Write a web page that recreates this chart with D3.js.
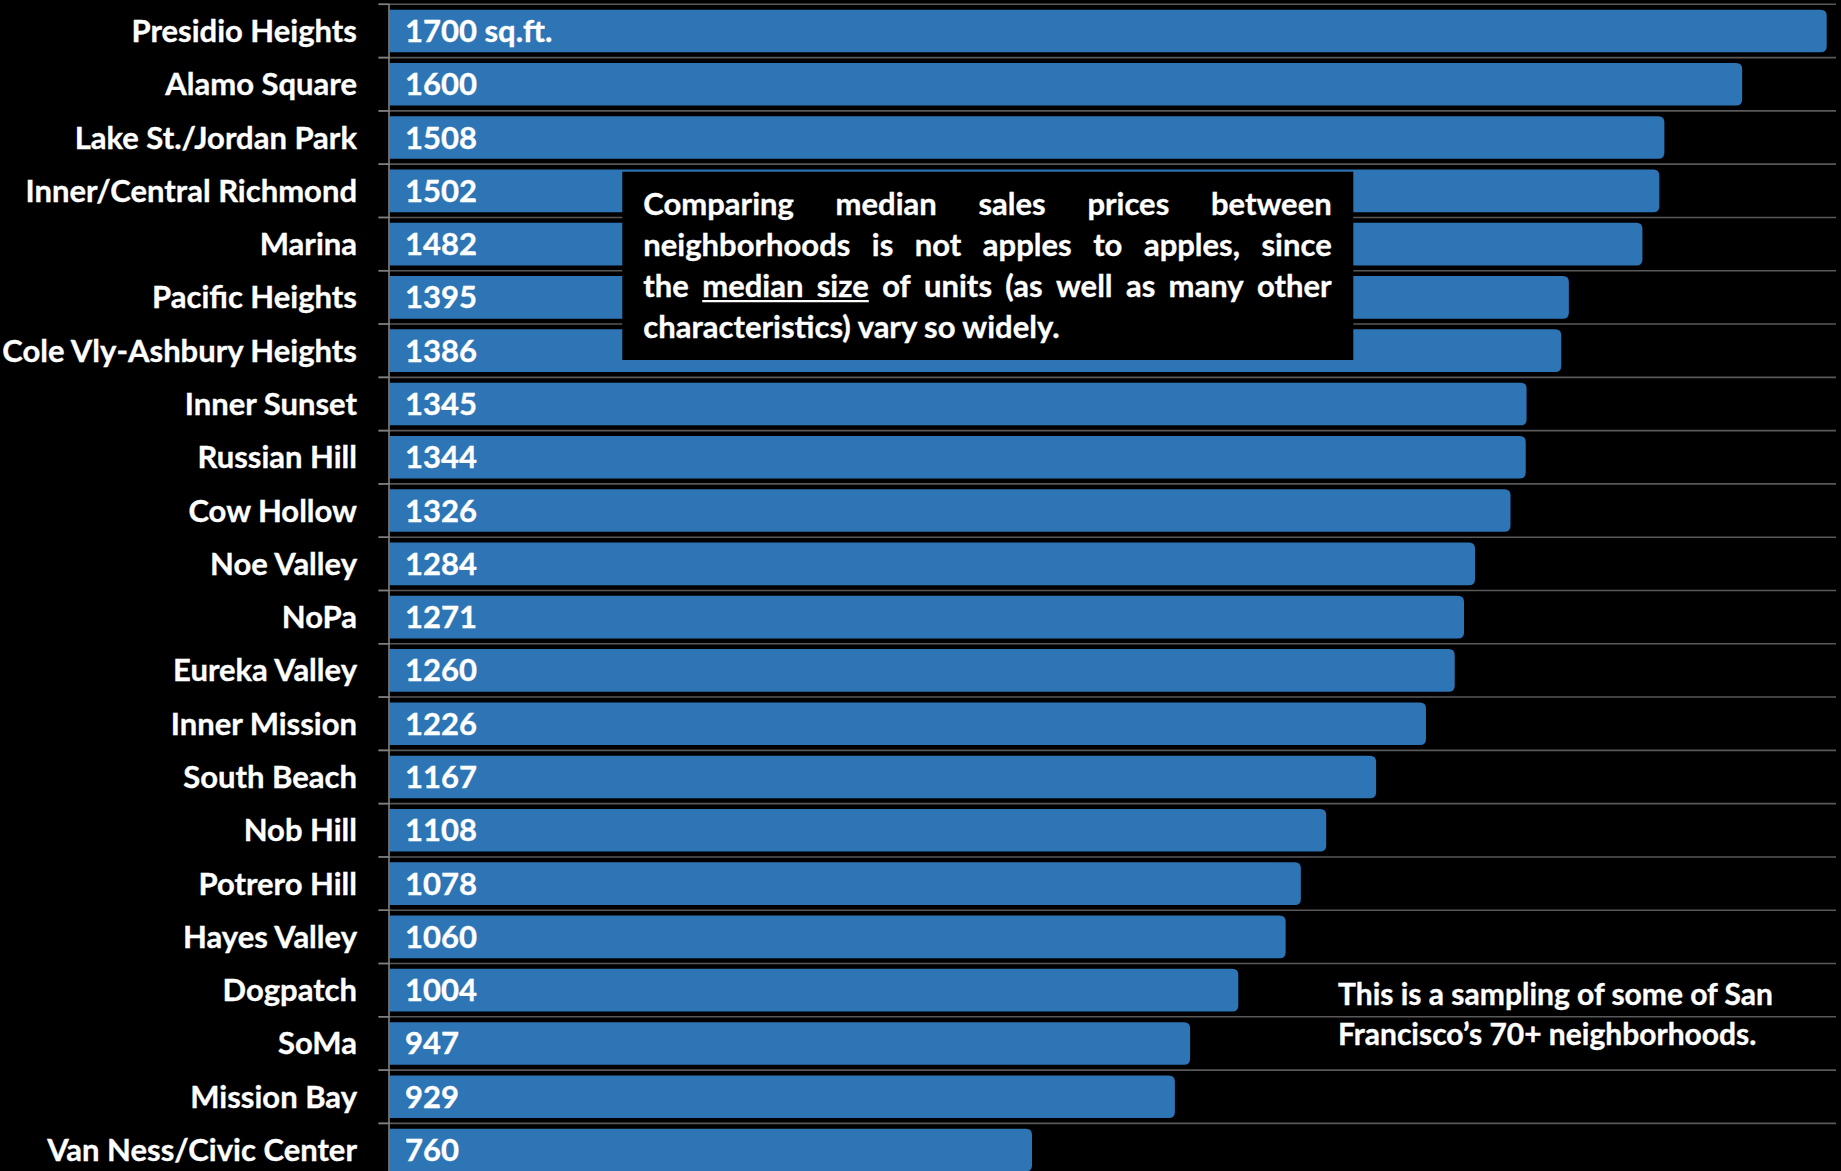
<!DOCTYPE html>
<html>
<head>
<meta charset="utf-8">
<script src="https://cdn.jsdelivr.net/npm/d3@7"></script>
<style>
  html, body { margin: 0; padding: 0; background: #000; }
  svg { display: block; }
  text { font-family: Lato, "Open Sans", sans-serif; font-weight: bold; fill: #fff;
         stroke: #fff; stroke-width: 0.35px; }
</style>
</head>
<body>
<svg id="chart" width="1841" height="1171"></svg>
<script>
// Median unit size (sq.ft.) by San Francisco neighborhood
const neighborhoods = [
  "Presidio Heights", "Alamo Square", "Lake St./Jordan Park", "Inner/Central Richmond",
  "Marina", "Pacific Heights", "Cole Vly-Ashbury Heights", "Inner Sunset",
  "Russian Hill", "Cow Hollow", "Noe Valley", "NoPa", "Eureka Valley",
  "Inner Mission", "South Beach", "Nob Hill", "Potrero Hill", "Hayes Valley",
  "Dogpatch", "SoMa", "Mission Bay", "Van Ness/Civic Center"
];
const medianSqFt = [
  1700, 1600, 1508, 1502, 1482, 1395, 1386, 1345, 1344, 1326, 1284,
  1271, 1260, 1226, 1167, 1108, 1078, 1060, 1004, 947, 929, 760
];
const valueUnit = " sq.ft.";

const noteLines = [
  "Comparing median sales prices between",
  "neighborhoods is not apples to apples, since",
  "the median size of units (as well as many other",
  "characteristics) vary so widely."
];
const underlinedWords = ["median", "size"]; // underlined on the third line
const sampleNote = [
  "This is a sampling of some of San",
  "Francisco\u2019s 70+ neighborhoods."
];

const data = neighborhoods.map((name, i) => ({ name, value: medianSqFt[i] }));

const svg = d3.select("#chart");
const FONT = 31;
const NOTE_FONT = 30;
const BAR = "#2E75B6";

const plotLeft = 389.5, plotRight = 1836, plotTop = 4.3;
const step = 53.29;

const x = d3.scaleLinear().domain([0, 1711]).range([plotLeft, plotRight]);
const y = d3.scaleBand()
  .domain(neighborhoods)
  .range([plotTop, plotTop + step * neighborhoods.length])
  .paddingInner(0.2)
  .paddingOuter(0.1);

// horizontal gridlines at category boundaries
const boundaries = d3.range(neighborhoods.length + 1).map(i => plotTop + i * y.step());
svg.append("g").selectAll("line").data(boundaries).join("line")
  .attr("x1", plotLeft - 11).attr("x2", plotRight)
  .attr("y1", d => d).attr("y2", d => d)
  .attr("stroke", "#595959").attr("stroke-width", 1.6);

// bars with rounded right ends
const r = 6;
function barPath(d) {
  const x0 = x(0), x1 = x(d.value), y0 = y(d.name), h = y.bandwidth();
  return `M${x0},${y0}H${x1 - r}Q${x1},${y0} ${x1},${y0 + r}V${y0 + h - r}Q${x1},${y0 + h} ${x1 - r},${y0 + h}H${x0}Z`;
}
svg.append("g").selectAll("path").data(data).join("path")
  .attr("d", barPath)
  .attr("fill", BAR);

// category axis line and ticks
svg.append("line")
  .attr("x1", plotLeft - 0.5).attr("x2", plotLeft - 0.5)
  .attr("y1", plotTop).attr("y2", 1171)
  .attr("stroke", "#808080").attr("stroke-width", 1.6);
svg.append("g").selectAll("line").data(boundaries).join("line")
  .attr("x1", plotLeft - 11).attr("x2", plotLeft)
  .attr("y1", d => d).attr("y2", d => d)
  .attr("stroke", "#808080").attr("stroke-width", 1.6);

// category labels
svg.append("g").selectAll("text").data(data).join("text")
  .attr("x", 357)
  .attr("y", d => y(d.name) + y.bandwidth() / 2 + 11)
  .attr("text-anchor", "end")
  .attr("font-size", FONT)
  .text(d => d.name);

// value labels inside bars
svg.append("g").selectAll("text").data(data).join("text")
  .attr("x", 405)
  .attr("y", d => y(d.name) + y.bandwidth() / 2 + 11)
  .attr("font-size", FONT)
  .text((d, i) => i === 0 ? d.value + valueUnit : String(d.value));

// note box with justified text
const box = { x: 622.3, y: 171.7, w: 731, h: 188.3 };
svg.append("rect")
  .attr("x", box.x).attr("y", box.y).attr("width", box.w).attr("height", box.h)
  .attr("fill", "#000");

const textLeft = 643.3, textRight = 1331.7;
const firstBaseline = 215, lineGap = 41.1;
const noteG = svg.append("g");
noteLines.forEach((line, li) => {
  const by = firstBaseline + li * lineGap;
  const isLast = li === noteLines.length - 1;
  if (isLast) {
    noteG.append("text").attr("x", textLeft).attr("y", by).attr("font-size", FONT).text(line);
    return;
  }
  const words = line.split(" ");
  const nodes = words.map(w => noteG.append("text").attr("y", by).attr("font-size", FONT).text(w));
  const widths = nodes.map(n => n.node().getComputedTextLength());
  const gap = (textRight - textLeft - d3.sum(widths)) / (words.length - 1);
  let cx = textLeft;
  const pos = [];
  nodes.forEach((n, i) => { n.attr("x", cx); pos.push([cx, cx + widths[i]]); cx += widths[i] + gap; });
  if (li === 2) {
    const a = words.indexOf(underlinedWords[0]);
    const b = words.indexOf(underlinedWords[1]);
    noteG.append("line")
      .attr("x1", pos[a][0]).attr("x2", pos[b][1])
      .attr("y1", by + 4).attr("y2", by + 4)
      .attr("stroke", "#fff").attr("stroke-width", 2.2);
  }
});

// sampling note
svg.append("g").selectAll("text").data(sampleNote).join("text")
  .attr("x", 1338)
  .attr("y", (d, i) => 1005 + i * 39.7)
  .attr("font-size", NOTE_FONT)
  .text(d => d);
</script>
</body>
</html>
